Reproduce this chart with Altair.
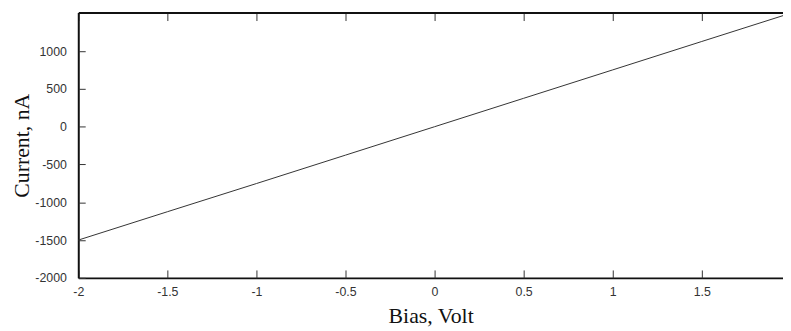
import altair as alt
import pandas as pd

bias = [-2.0, -1.5, -1.0, -0.5, 0.0, 0.5, 1.0, 1.5, 1.956]
current = [-1500, -1125, -752, -376, 0, 376, 752, 1128, 1470]
x_ticks = [-2, -1.5, -1, -0.5, 0, 0.5, 1, 1.5]
y_ticks = [-2000, -1500, -1000, -500, 0, 500, 1000]

df = pd.DataFrame({"bias": bias, "current": current})

W, H = 712, 268
xs = alt.Scale(domain=[-2, 1.956], nice=False, zero=False)
ys = alt.Scale(domain=[-2000, 1510], nice=False, zero=False)
plain = "'' + datum.value"

base = alt.Chart(df)

main = base.mark_line(color="#333333", strokeWidth=1).encode(
    x=alt.X("bias:Q", scale=xs, title="Bias, Volt",
            axis=alt.Axis(orient="bottom", values=x_ticks, ticks=False, grid=False,
                          domain=True, domainColor="#111111", domainWidth=2,
                          labelExpr=plain,
                          labelFont="Liberation Sans", labelFontSize=12.5, labelColor="#333333",
                          labelPadding=8, labelFlush=False,
                          titleFont="Liberation Serif", titleFontSize=22, titleFontWeight="normal",
                          titleColor="#111111", titlePadding=8)),
    y=alt.Y("current:Q", scale=ys, title="Current, nA",
            axis=alt.Axis(orient="left", values=y_ticks, ticks=False, grid=False,
                          domain=True, domainColor="#111111", domainWidth=2,
                          labelExpr=plain,
                          labelFont="Liberation Sans", labelFontSize=12.5, labelColor="#333333",
                          labelPadding=12, labelFlush=False,
                          titleFont="Liberation Serif", titleFontSize=22, titleFontWeight="normal",
                          titleColor="#111111", titlePadding=1)),
)

inner = base.mark_line(opacity=0).encode(
    x=alt.X("bias:Q", scale=xs, title=None,
            axis=alt.Axis(orient="top", offset=-H, values=x_ticks, labels=False, domain=False,
                          grid=False, ticks=True, tickSize=8, tickColor="#333333", tickWidth=1)),
    y=alt.Y("current:Q", scale=ys, title=None,
            axis=alt.Axis(orient="right", offset=-W, values=y_ticks, labels=False, domain=False,
                          grid=False, ticks=True, tickSize=7, tickColor="#333333", tickWidth=1)),
)

top = base.mark_line(opacity=0).encode(
    x=alt.X("bias:Q", scale=xs, title=None,
            axis=alt.Axis(orient="bottom", offset=-H, values=x_ticks, labels=False, domain=True,
                          domainColor="#111111", domainWidth=2,
                          grid=False, ticks=True, tickSize=8, tickColor="#333333", tickWidth=1)),
    y=alt.Y("current:Q", scale=ys, axis=None),
)

chart = alt.layer(main, inner, top).resolve_axis(x="independent", y="independent").properties(
    width=W, height=H,
    autosize=alt.AutoSizeParams(type="none"),
    padding={"left": 71, "top": 3, "right": 0, "bottom": 50},
).configure_view(stroke=None).configure(background="white")

chart.save("out.html", embed_options={"renderer": "svg", "actions": False})
